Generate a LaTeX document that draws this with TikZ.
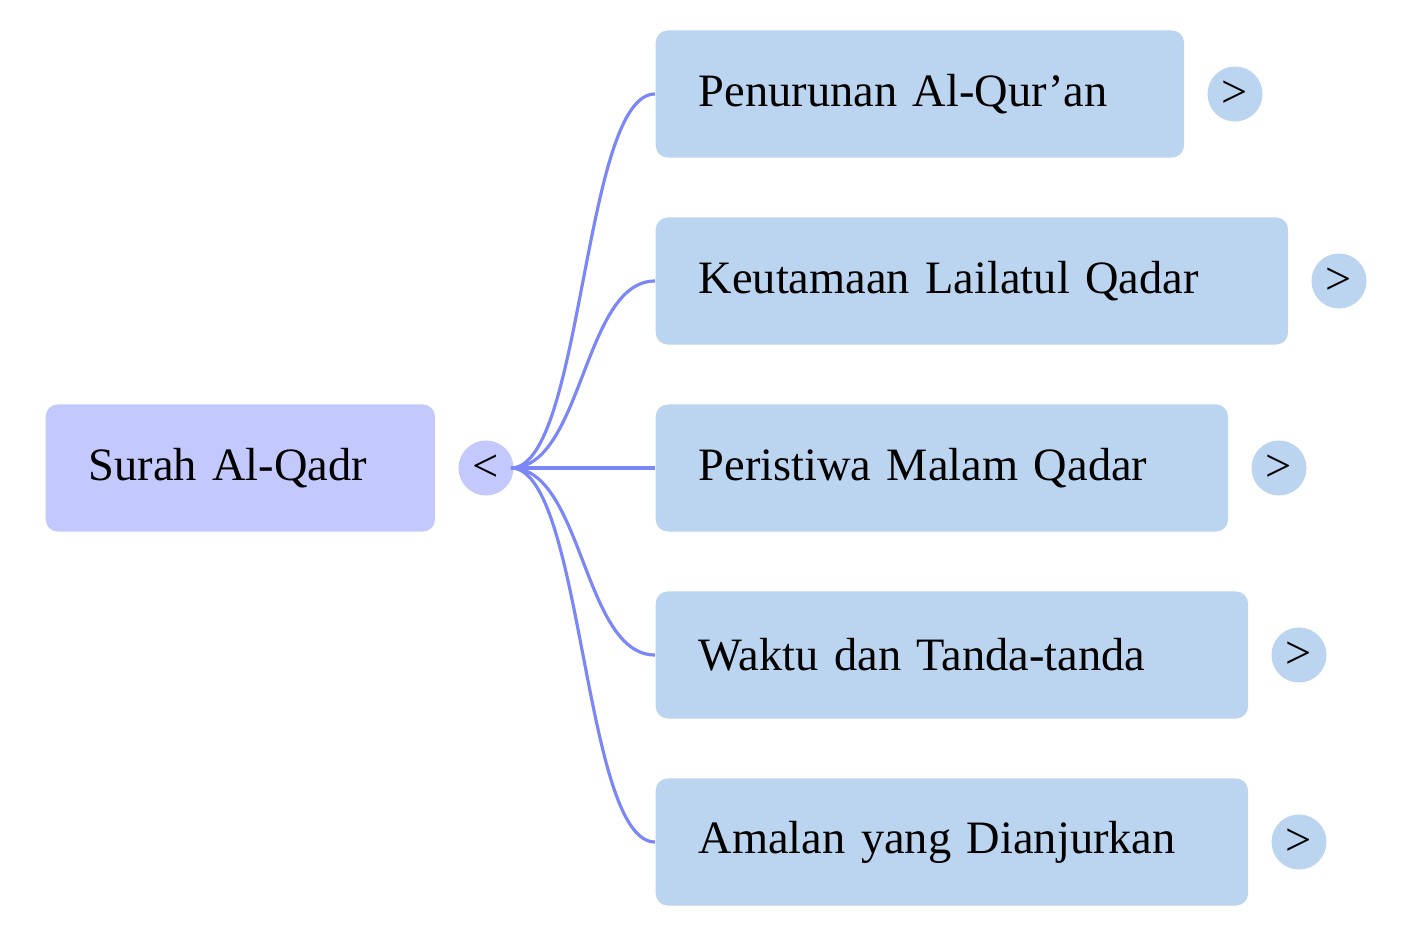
\documentclass[tikz,border=0pt]{standalone}
\usepackage{fontspec}
\setmainfont{Liberation Serif}
\definecolor{rootc}{HTML}{C3C9FD}
\definecolor{kidc}{HTML}{BBD4EF}
\definecolor{linec}{HTML}{7B86F7}
\begin{document}
\begin{tikzpicture}[x=0.01cm,y=-0.01cm,
  box/.style={rectangle,rounded corners=0.12cm,anchor=west,minimum height=1.27cm,inner xsep=0.43cm,align=left,font=\fontsize{13.2}{15}\selectfont},
  kid/.style={box,fill=kidc},
  btn/.style={circle,minimum size=0.55cm,inner sep=0pt,font=\fontsize{13.2}{15}\selectfont},
  conn/.style={linec,line width=0.9pt}]
\useasboundingbox (0,0) rectangle (1412,937);
\node[box,fill=rootc,minimum width=3.89cm,text width=3.03cm] (root) at (45,468) {Surah Al-Qadr};
\node[btn,fill=rootc] (c0) at (486,468) {<};
\node[kid,minimum width=5.28cm,text width=4.42cm] (k1) at (655,94) {Penurunan Al-Qur'an};
\node[kid,minimum width=6.32cm,text width=5.46cm] (k2) at (655,281) {Keutamaan Lailatul Qadar};
\node[kid,minimum width=5.72cm,text width=4.86cm] (k3) at (655,468) {Peristiwa Malam Qadar};
\node[kid,minimum width=5.92cm,text width=5.06cm] (k4) at (655,655) {Waktu dan Tanda-tanda};
\node[kid,minimum width=5.92cm,text width=5.06cm] (k5) at (655,842) {Amalan yang Dianjurkan};
\node[btn,fill=kidc] (b1) at (1235,94) {>};
\node[btn,fill=kidc] (b2) at (1339,281) {>};
\node[btn,fill=kidc] (b3) at (1279,468) {>};
\node[btn,fill=kidc] (b4) at (1299,655) {>};
\node[btn,fill=kidc] (b5) at (1299,842) {>};
\coordinate (s) at (511,468);
\foreach \k/\y in {k1/94,k2/281,k4/655,k5/842}
  \draw[conn] (s) .. controls (583,468) and (583,\y) .. (\k.west);
\draw[conn] (s) -- (k3.west);
\end{tikzpicture}
\end{document}
